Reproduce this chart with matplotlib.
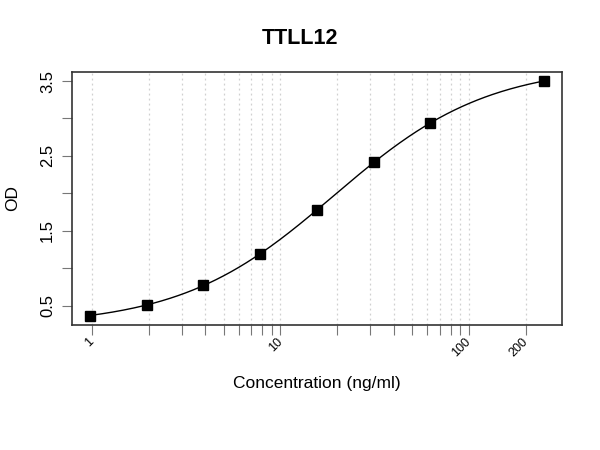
import numpy as np
import matplotlib
matplotlib.use("Agg")
import matplotlib.pyplot as plt
from matplotlib.ticker import FixedLocator, NullLocator

title = "TTLL12"
xlabel = "Concentration (ng/ml)"
ylabel = "OD"
conc = [0.977, 1.953, 3.906, 7.8125, 15.625, 31.25, 62.5, 250.0]
od = [0.366, 0.504, 0.780, 1.185, 1.777, 2.413, 2.943, 3.500]
xgrid = [1, 2, 3, 4, 5, 6, 7, 8, 9, 10, 20, 30, 40, 50, 60, 70, 80, 90, 100, 200]
xlabels_shown = {1: "1", 10: "10", 100: "100", 200: "200"}
yticks = [0.5, 1.0, 1.5, 2.0, 2.5, 3.0, 3.5]
ylabels_shown = {0.5: "0.5", 1.5: "1.5", 2.5: "2.5", 3.5: "3.5"}

plt.rcParams['font.family'] = ['Liberation Sans', 'DejaVu Sans']

x = np.array(conc)
y = np.array(od)

def model(p, xx):
    A, D, C, B = p
    return D + (A - D) / (1.0 + (xx / C) ** B)

# 4PL fit via Levenberg-Marquardt
p = np.array([0.2, 4.0, 25.0, 1.0])
lam = 1e-2
for _ in range(500):
    r = y - model(p, x)
    J = np.zeros((len(x), 4))
    for j in range(4):
        dp = np.zeros(4); dp[j] = 1e-6 * max(abs(p[j]), 1e-3)
        J[:, j] = (model(p + dp, x) - model(p, x)) / dp[j]
    H = J.T @ J
    g = J.T @ r
    step = np.linalg.solve(H + lam * np.diag(np.diag(H)), g)
    pn = p + step
    if pn[2] > 0 and np.sum((y - model(pn, x)) ** 2) < np.sum(r ** 2):
        p = pn; lam *= 0.5
    else:
        lam *= 4

fig = plt.figure(figsize=(6, 4.5), dpi=100)
ax = fig.add_axes([0.1195, 0.2778, 0.8175, 0.5629])
ax.set_xscale('log')

lx = np.log10(x)
rng = lx.max() - lx.min()
ax.set_xlim(10 ** (lx.min() - 0.04 * rng), 10 ** (lx.max() + 0.04 * rng))
yr = y.max() - y.min()
ax.set_ylim(y.min() - 0.04 * yr, y.max() + 0.04 * yr)

for gx in xgrid:
    ax.axvline(gx, color='#d0d0d0', linestyle=(0, (1.5, 2.5)), linewidth=0.9, zorder=0)

xs = np.logspace(np.log10(x.min()), np.log10(x.max()), 300)
ax.plot(xs, model(p, xs), color='black', linewidth=1.0, zorder=2)
ax.plot(x, y, linestyle='none', marker='s', markersize=7.5, color='black', zorder=3)

ax.xaxis.set_major_locator(FixedLocator(xgrid))
ax.xaxis.set_minor_locator(NullLocator())
ax.set_xticklabels([xlabels_shown.get(v, "") for v in xgrid])
for lab in ax.get_xticklabels():
    lab.set_rotation(45)
    lab.set_ha('right')
    lab.set_va('center')
    lab.set_rotation_mode('anchor')
    lab.set_fontsize(9)

ax.set_yticks(yticks)
ax.set_yticklabels([ylabels_shown.get(v, "") for v in yticks], rotation=90, va='center', fontsize=12)

ax.tick_params(axis='both', direction='out', length=7, width=0.8, color='#777777')
ax.tick_params(axis='x', pad=4)
ax.tick_params(axis='y', pad=5)
for s in ax.spines.values():
    s.set_color('#333333')
    s.set_linewidth(1.2)

ax.set_xlabel(xlabel, fontsize=12.5, labelpad=12)
ax.set_ylabel(ylabel, fontsize=12.5, labelpad=14)
fig.text(0.5, 1 - 38 / 450, title, ha='center', va='center', fontsize=15.5, fontweight='bold')

fig.savefig('out.png', dpi=100)
